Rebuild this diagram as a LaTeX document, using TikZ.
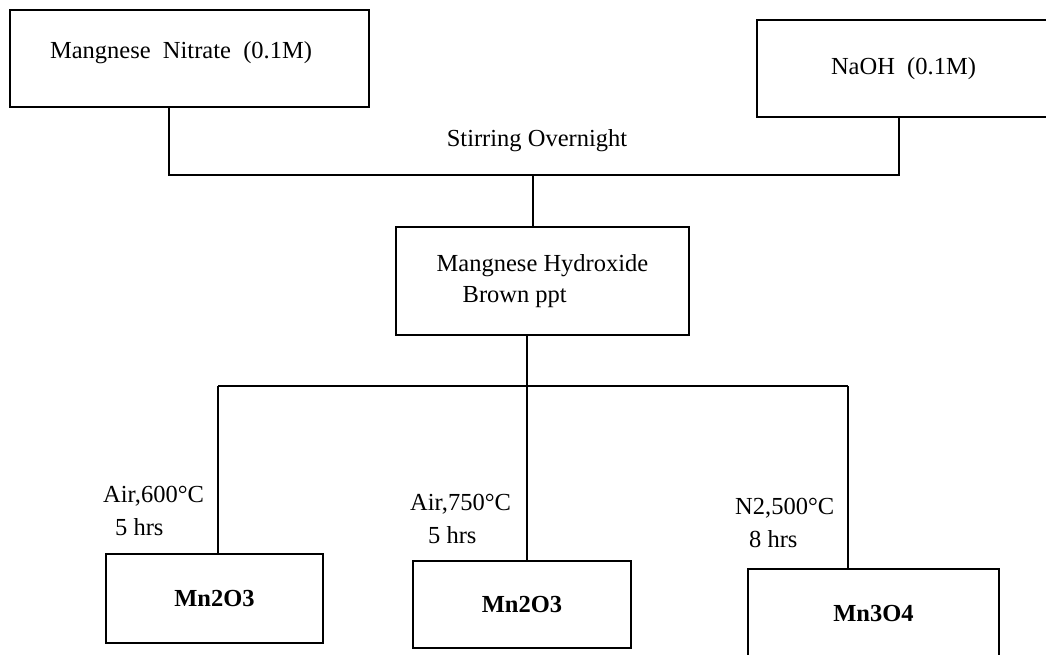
\documentclass[tikz,border=0pt]{standalone}
\usepackage{fontspec}
\setmainfont{Liberation Serif}
\begin{document}
\begin{tikzpicture}[x=1pt,y=-1pt,
  box/.style={draw,line width=1.6pt,inner sep=0pt,font=\fontsize{24.5}{31}\selectfont},
  prod/.style={box,font=\fontsize{24.5}{31}\selectfont\bfseries},
  txt/.style={inner sep=0pt,font=\fontsize{24.5}{31}\selectfont},
  lbl/.style={inner sep=0pt,align=left,font=\fontsize{24.5}{33}\selectfont},
  wire/.style={line width=1.6pt}]
\useasboundingbox (0,0) rectangle (1046,654);
% top boxes
\node[box,minimum width=359pt,minimum height=97pt] (n1) at (189.5,58.5) {};
\node[txt] (t1) at (181,53) {Mangnese\ \ Nitrate\ \ (0.1M)};
\node[box,minimum width=293pt,minimum height=97pt] (n2) at (903.5,68.5) {NaOH\ \ (0.1M)};
\node[txt] (st) at (537,141) {Stirring Overnight};
% middle box
\node[box,minimum width=293pt,minimum height=108pt,align=left] (n3) at (542.5,281) {Mangnese Hydroxide\\\hspace*{26pt}Brown ppt};
% bottom boxes
\node[prod,minimum width=217pt,minimum height=89pt] (b1) at (214.5,598.5) {Mn2O3};
\node[prod,minimum width=218pt,minimum height=87pt] (b2) at (522,604.5) {Mn2O3};
\node[prod,minimum width=251pt,minimum height=88pt] (b3) at (873.5,613) {Mn3O4};
% labels
\node[lbl,anchor=west] (l1) at (103,511) {Air,600°C\\\hspace*{12pt}5 hrs};
\node[lbl,anchor=west] (l2) at (410,519) {Air,750°C\\\hspace*{18pt}5 hrs};
\node[lbl,anchor=west] (l3) at (735,523) {N2,500°C\\\hspace*{14pt}8 hrs};
% junction coordinates
\coordinate (ja) at (169,175);
\coordinate (jb) at (899,175);
\coordinate (jc) at (533,175);
\coordinate (jd) at (527,386);
\coordinate (je) at (218,386);
\coordinate (jf) at (848,386);
% connectors
\draw[wire] (n1.south -| ja) -- (ja) -- (jb) -- (n2.south -| jb);
\draw[wire] (jc) -- (n3.north -| jc);
\draw[wire] (n3.south -| jd) -- (jd);
\draw[wire] (je) -- (jf);
\draw[wire] (je) -- (b1.north -| je);
\draw[wire] (jd) -- (b2.north -| jd);
\draw[wire] (jf) -- (b3.north -| jf);
\end{tikzpicture}
\end{document}
